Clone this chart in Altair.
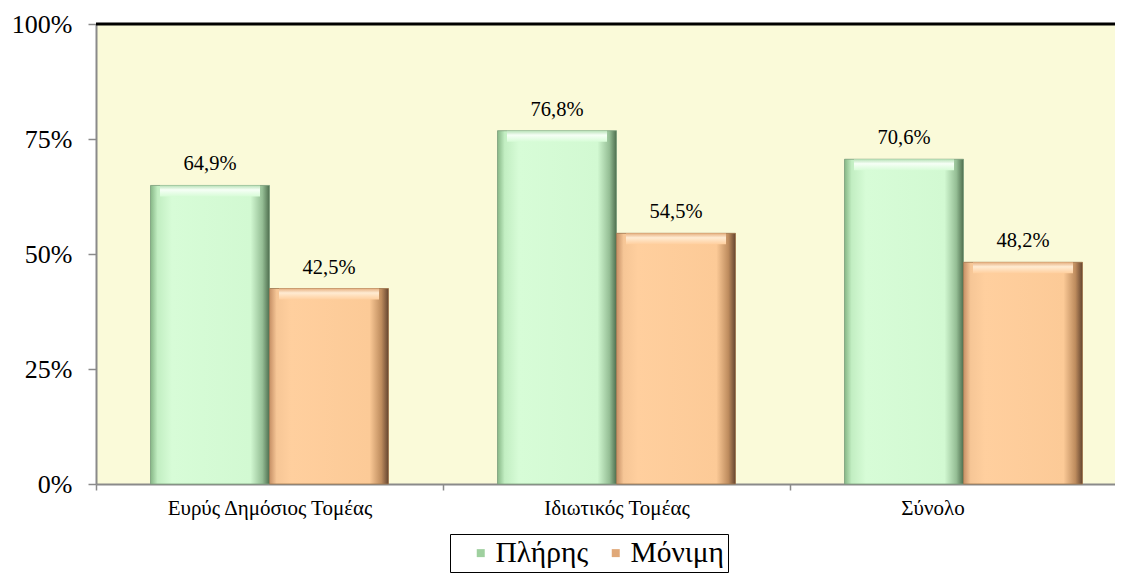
import altair as alt
import pandas as pd

categories = ["Ευρύς Δημόσιος Τομέας", "Ιδιωτικός Τομέας", "Σύνολο"]
series = ["Πλήρης", "Μόνιμη"]
full_values = [0.649, 0.768, 0.706]
perm_values = [0.425, 0.545, 0.482]
full_labels = ["64,9%", "76,8%", "70,6%"]
perm_labels = ["42,5%", "54,5%", "48,2%"]
y_ticks = [0, 0.25, 0.5, 0.75, 1.0]

rows = []
for c, v, l in zip(categories, full_values, full_labels):
    rows.append({"cat": c, "series": series[0], "value": v, "label": l})
for c, v, l in zip(categories, perm_values, perm_labels):
    rows.append({"cat": c, "series": series[1], "value": v, "label": l})
df = pd.DataFrame(rows)

FONT = "Liberation Serif"

x_enc = alt.X(
    "cat:N",
    sort=categories,
    scale=alt.Scale(range=[0, 1041], paddingInner=0, paddingOuter=0),
    axis=alt.Axis(
        title=None, labelAngle=0, tickBand="extent", domainColor="#8a8a8a",
        domainWidth=2, tickColor="#8a8a8a", tickSize=6, tickWidth=1.5,
        labelFontSize=21, labelFont=FONT, labelColor="black", labelPadding=7,
        labelLimit=500,
        labelOffset={
            "condition": {"test": "datum.value === 'Σύνολο'", "value": -31},
            "value": 0,
        },
    ),
)
xo_enc = alt.XOffset("series:N", sort=series,
                     scale=alt.Scale(paddingOuter=0.458, paddingInner=0))
y_enc = alt.Y(
    "value:Q",
    scale=alt.Scale(domain=[0, 1], nice=False),
    axis=alt.Axis(
        title=None, values=y_ticks, format=".0%", grid=False,
        domainColor="#8a8a8a", domainWidth=2, tickColor="#8a8a8a", tickSize=8,
        tickWidth=1.5, labelFontSize=26, labelFont=FONT, labelColor="black",
        labelPadding=16,
    ),
)

base = alt.Chart(df)

bars = base.mark_bar().encode(
    x=x_enc, xOffset=xo_enc, y=y_enc,
    color=alt.Color(
        "series:N", sort=series,
        scale=alt.Scale(domain=series, range=["#9FD09F", "#E0A878"]),
        legend=alt.Legend(
            title=None, orient="none", direction="horizontal", legendX=354,
            legendY=510, symbolType="square", symbolSize=64, symbolStrokeWidth=0,
            labelFont=FONT, labelFontSize=29.5, labelColor="black",
            strokeColor="black", padding=4, columnPadding=0, labelOffset=0,
            symbolOffset=12, labelLimit=300,
        ),
    ),
)

green_grad = alt.Gradient(
    gradient="linear", x1=0, x2=1, y1=0, y2=0,
    stops=[
        alt.GradientStop(offset=0, color="#86B686"),
        alt.GradientStop(offset=0.06, color="#C2EEC2"),
        alt.GradientStop(offset=0.18, color="#D7FCD7"),
        alt.GradientStop(offset=0.84, color="#D2F9D2"),
        alt.GradientStop(offset=0.94, color="#95BE95"),
        alt.GradientStop(offset=1, color="#4E6E4E"),
    ],
)
orange_grad = alt.Gradient(
    gradient="linear", x1=0, x2=1, y1=0, y2=0,
    stops=[
        alt.GradientStop(offset=0, color="#C69066"),
        alt.GradientStop(offset=0.06, color="#F6C696"),
        alt.GradientStop(offset=0.18, color="#FFCF9E"),
        alt.GradientStop(offset=0.84, color="#FCCA97"),
        alt.GradientStop(offset=0.94, color="#BE8C5E"),
        alt.GradientStop(offset=1, color="#654530"),
    ],
)
green_top = alt.Gradient(
    gradient="linear", x1=0, x2=0, y1=0, y2=1,
    stops=[
        alt.GradientStop(offset=0, color="#B8E2B8"),
        alt.GradientStop(offset=0.4, color="#F6FFF6"),
        alt.GradientStop(offset=1, color="#D7FCD7"),
    ],
)
orange_top = alt.Gradient(
    gradient="linear", x1=0, x2=0, y1=0, y2=1,
    stops=[
        alt.GradientStop(offset=0, color="#E6B080"),
        alt.GradientStop(offset=0.4, color="#FFEBD2"),
        alt.GradientStop(offset=1, color="#FFCF9E"),
    ],
)

green_bars = base.mark_bar(fill=green_grad, stroke="#7FA07F", strokeWidth=0.8).encode(
    x=x_enc, xOffset=xo_enc, y=y_enc
).transform_filter(alt.datum.series == series[0])
orange_bars = base.mark_bar(fill=orange_grad, stroke="#A07850", strokeWidth=0.8).encode(
    x=x_enc, xOffset=xo_enc, y=y_enc
).transform_filter(alt.datum.series == series[1])

green_cap = base.transform_filter(alt.datum.series == series[0]).transform_calculate(
    cap="datum.value - 0.024"
).mark_bar(fill=green_top, size=100).encode(
    x=x_enc, xOffset=xo_enc, y=alt.Y("value:Q"), y2="cap:Q"
)
orange_cap = base.transform_filter(alt.datum.series == series[1]).transform_calculate(
    cap="datum.value - 0.024"
).mark_bar(fill=orange_top, size=100).encode(
    x=x_enc, xOffset=xo_enc, y=alt.Y("value:Q"), y2="cap:Q"
)

texts = base.mark_text(
    baseline="alphabetic", dy=-15, font=FONT, fontSize=20.5, color="black"
).encode(x=x_enc, xOffset=xo_enc, y=y_enc, text="label:N")

top_rule = alt.Chart(pd.DataFrame({"v": [1.0]})).mark_rule(
    color="black", strokeWidth=3
).encode(y=alt.Y("v:Q"))

chart = alt.layer(
    bars, green_bars, orange_bars, green_cap, orange_cap, texts, top_rule
).properties(
    width=1019, height=460,
    autosize=alt.AutoSizeParams(type="none"),
    padding={"left": 88, "top": 16, "right": 0, "bottom": 89},
).configure_view(fill="#FAFAD9", strokeOpacity=0)

chart.save("out.html", embed_options={"renderer": "svg", "actions": False})
